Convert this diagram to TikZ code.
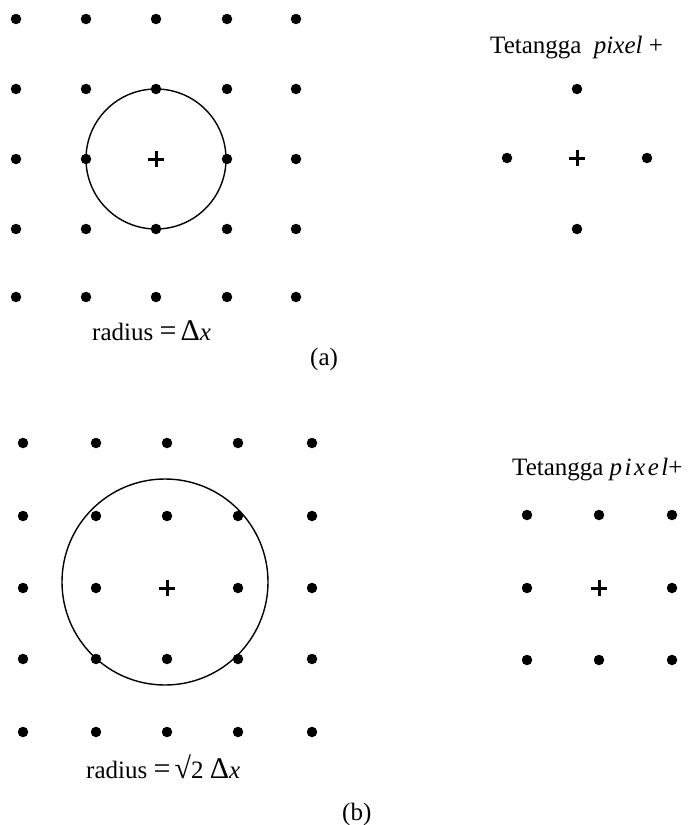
\documentclass[tikz,border=0pt]{standalone}
\usepackage{fontspec}
\setmainfont{Liberation Serif}
\newcommand{\bigsym}[1]{{\fontsize{30}{32}\selectfont #1}}
\begin{document}
\begin{tikzpicture}[x=1pt,y=-1pt,
  dot/.style={circle,fill=black,inner sep=0pt,minimum size=10.5pt},
  lbl/.style={inner sep=0pt,anchor=base west,font=\fontsize{25}{28}\selectfont},
  ring/.style={draw=black,line width=1.4pt},
  plusmark/.style={line width=3pt}]
\useasboundingbox (0,0) rectangle (688,825);
% (a) grid
\foreach \x [count=\i] in {16,86,156,227,296}
  \foreach \y [count=\j] in {19,89,159,229,297}
    {\ifnum\i=3 \ifnum\j=3 \else \node[dot] (a\i\j) at (\x,\y) {}; \fi
     \else \node[dot] (a\i\j) at (\x,\y) {}; \fi}
\draw[ring] (156,159) circle (70);
\coordinate (ac) at (156,159);
\draw[plusmark] ([xshift=-8pt]ac) -- ([xshift=8pt]ac) ([yshift=-8pt]ac) -- ([yshift=8pt]ac);
\node[lbl] (ra) at (92,340) {radius \bigsym{=}\,\bigsym{Δ}\textit{x}};
\node[lbl] (capa) at (310,365) {(a)};
% (a) neighbours
\node[lbl] (ta) at (490,53) {Tetangga \ \textit{pixel} +};
\node[dot] (na1) at (577,89) {};
\node[dot] (na2) at (507,158) {};
\node[dot] (na3) at (647,158) {};
\node[dot] (na4) at (577,229) {};
\coordinate (nac) at (577,158);
\draw[plusmark] ([xshift=-8pt]nac) -- ([xshift=8pt]nac) ([yshift=-8pt]nac) -- ([yshift=8pt]nac);
% (b) grid
\foreach \x [count=\i] in {23,96,167,238,312}
  \foreach \y [count=\j] in {443,516,588,659,732}
    {\ifnum\i=3 \ifnum\j=3 \else \node[dot] (b\i\j) at (\x,\y) {}; \fi
     \else \node[dot] (b\i\j) at (\x,\y) {}; \fi}
\draw[ring] (165,582) circle (103);
\coordinate (bc) at (167,588);
\draw[plusmark] ([xshift=-8pt]bc) -- ([xshift=8pt]bc) ([yshift=-8pt]bc) -- ([yshift=8pt]bc);
\node[lbl] (rb) at (86,778) {radius \bigsym{=}\,\bigsym{√}2 \bigsym{Δ}\textit{x}};
\node[lbl] (capb) at (342,820) {(b)};
% (b) neighbours
\node[lbl] (tb) at (512,475) {Tetangga {\itshape\addfontfeatures{LetterSpace=10}pixel}+};
\foreach \x [count=\i] in {527,599,672}
  \foreach \y [count=\j] in {515,588,660}
    {\ifnum\i=2 \ifnum\j=2 \else \node[dot] (nb\i\j) at (\x,\y) {}; \fi
     \else \node[dot] (nb\i\j) at (\x,\y) {}; \fi}
\coordinate (nbc) at (599,588);
\draw[plusmark] ([xshift=-8pt]nbc) -- ([xshift=8pt]nbc) ([yshift=-8pt]nbc) -- ([yshift=8pt]nbc);
\end{tikzpicture}
\end{document}
